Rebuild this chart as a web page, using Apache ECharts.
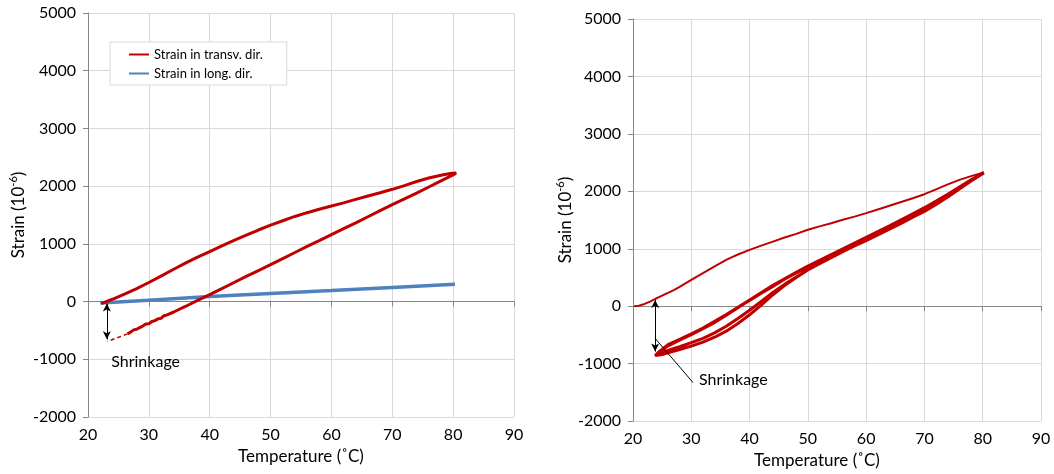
<!DOCTYPE html>
<html>
<head>
<meta charset="utf-8">
<script src="https://cdn.jsdelivr.net/npm/echarts@6/dist/echarts.min.js"></script>
<style>
html,body{margin:0;padding:0;background:#fff;}
#chart{width:1054px;height:474px;}
</style>
</head>
<body>
<div id="chart"></div>
<script>
// ---------- DATA ----------
var xTicks = [20, 30, 40, 50, 60, 70, 80, 90];
var yTicks = [-2000, -1000, 0, 1000, 2000, 3000, 4000, 5000];
var legendNames = ['Strain in transv. dir.', 'Strain in long. dir.'];

// Left chart: transverse strain, heating branch [temperature, strain]
var leftTransHeat = [
  [22.2,-35],[23,0],[24,40],[26,130],[28,225],[30,330],[32,440],[34,555],[36,665],[38,770],
  [40,865],[42,965],[44,1060],[46,1150],[48,1240],[50,1325],[52,1400],[54,1475],[56,1540],
  [58,1600],[60,1655],[62,1710],[64,1770],[66,1830],[68,1885],[70,1945],[72,2010],[74,2080],
  [76,2140],[78,2190],[79.5,2220],[80.5,2228]
];
// Left chart: transverse strain, cooling branch
var leftTransCool = [
  [80.8,2215],[80,2195],[78,2090],[76,1985],[74,1880],[72,1780],[70,1680],[68,1575],[66,1470],
  [64,1365],[62,1265],[60,1160],[58,1055],[56,955],[54,850],[52,745],[50,640],[48,535],
  [46,435],[44,330],[42,225],[40,120],[38,20],[36,-85],[34,-185],[33,-230],[32.4,-250],
  [32,-290],[31.5,-300],[31,-330],[30.5,-345],[30,-385],[29.5,-390],[29,-425],[28.5,-450],
  [28,-480],[27.5,-490],[27,-530],[26.5,-560]
];
// Left chart: dashed extrapolation
var leftTransDash = [[26.5,-560],[23.2,-690]];
// Left chart: longitudinal strain
var leftLong = [[22,-25],[30,25],[40,88],[50,140],[60,190],[70,245],[80.3,300]];

// Right chart: first heating
var rightFirstHeat = [
  [20.2,0],[21,10],[22,40],[23,85],[24,135],[25,185],[26,232],[27,280],[28,335],[30,460],
  [32,575],[34,695],[35,750],[36,805],[37,855],[38,900],[40,980],[42,1055],[44,1125],[46,1195],
  [48,1260],[50,1330],[52,1390],[54,1445],[56,1505],[58,1560],[60,1620],[62,1685],[64,1750],
  [66,1815],[68,1880],[70,1950],[72,2035],[74,2120],[76,2200],[78,2265],[80.2,2330]
];
// Right chart: thermal cycles
var rightCool1 = [
  [80.2,2330],[78,2200],[76,2075],[74,1950],[72,1830],[70,1715],[68,1610],[66,1505],[64,1400],
  [62,1300],[60,1200],[58,1100],[56,1000],[54,900],[52,800],[50,700],[48,590],[46,470],
  [44,345],[42,225],[40,100],[38,-20],[36,-150],[34,-275],[32,-380],[30,-480],[28,-575],
  [26,-670],[24.5,-790],[23.8,-860]
];
var rightHeat1 = [
  [23.8,-870],[25,-840],[26,-810],[28,-755],[30,-695],[32,-625],[34,-540],[36,-435],[38,-300],
  [40,-150],[42,20],[44,200],[46,360],[48,500],[50,630],[52,740],[54,845],[56,950],[58,1050],
  [60,1140],[62,1240],[64,1340],[66,1440],[68,1550],[70,1650],[72,1770],[74,1900],[76,2040],
  [78,2180],[80.2,2320]
];
var rightCool2 = [
  [80.2,2320],[76,2060],[72,1810],[68,1590],[64,1380],[60,1180],[56,985],[52,785],[48,580],
  [44,360],[42,235],[40,105],[38,-25],[36,-155],[34,-285],[32,-390],[30,-495],[28,-590],
  [26,-690],[24.5,-800],[23.9,-855]
];
var rightHeat2 = [
  [23.9,-860],[26,-770],[28,-705],[30,-635],[32,-560],[34,-465],[36,-350],[38,-215],[40,-70],
  [42,85],[44,240],[46,380],[48,510],[52,755],[56,965],[60,1160],[64,1360],[68,1565],
  [72,1785],[76,2050],[80.2,2325]
];
var rightCool3 = [
  [80.2,2325],[76,2070],[72,1820],[68,1600],[64,1390],[60,1190],[56,990],[52,790],[48,590],
  [44,365],[40,110],[36,-145],[32,-380],[30,-480],[28.5,-560],[26.8,-645]
];

// Annotations [temperature, strain]
var leftArrow = [[23.1,-35],[23.1,-655]];
var leftLabelPos = [23.9,-1060];
var rightArrow = [[23.8,110],[23.8,-790]];
var rightLeader = [[23.8,-560],[30.3,-1330]];
var rightLabelPos = [31.4,-1295];
var labelText = 'Shrinkage';

// ---------- STYLE ----------
var RED = '#c00000', BLUE = '#4f81bd', GRID = '#d9d9d9', AXIS = '#868686';
var FONT = 'Lato';

function plain(v) { return String(v); }

function xAxes(gi, nameGap, namePad) {
  return [
    {
      gridIndex: gi, type: 'value', min: xTicks[0], max: xTicks[xTicks.length-1], interval: 10,
      position: 'bottom',
      axisLine: { show: false, onZero: false },
      axisTick: { show: false },
      splitLine: { show: true, lineStyle: { color: GRID, width: 1 } },
      axisLabel: { fontFamily: FONT, fontSize: 16, color: '#000', margin: 10, formatter: plain },
      name: 'Temperature (˚C)', nameLocation: 'middle', nameGap: nameGap,
      nameTextStyle: { fontFamily: FONT, fontSize: 17, color: '#000', padding: namePad }
    },
    {
      gridIndex: gi, type: 'value', min: xTicks[0], max: xTicks[xTicks.length-1], interval: 10,
      position: 'top',
      axisLine: { show: true, onZero: true, lineStyle: { color: AXIS, width: 1 } },
      axisTick: { show: true, inside: true, length: 5, lineStyle: { color: AXIS } },
      axisLabel: { show: false },
      splitLine: { show: false }
    }
  ];
}
function yAxis(gi, nameGap) {
  return {
    gridIndex: gi, type: 'value', min: yTicks[0], max: yTicks[yTicks.length-1], interval: 1000,
    axisLine: { show: true, onZero: false, lineStyle: { color: AXIS, width: 1 } },
    axisTick: { show: true, length: 5, lineStyle: { color: AXIS } },
    splitLine: { show: true, lineStyle: { color: GRID, width: 1 } },
    axisLabel: { fontFamily: FONT, fontSize: 16, color: '#000', margin: 12, formatter: plain },
    name: '{base|Strain (10}{sup|-6}{base|)}', nameLocation: 'middle', nameGap: nameGap,
    nameTextStyle: {
      fontFamily: FONT, fontSize: 17, color: '#000',
      rich: {
        base: { fontFamily: FONT, fontSize: 17, color: '#000', lineHeight: 22 },
        sup: { fontFamily: FONT, fontSize: 11, color: '#000', verticalAlign: 'top', lineHeight: 22, padding: [0, 0, 8, 0] }
      }
    }
  };
}

function lineSeries(name, data, xi, yi, color, width, dashed) {
  return {
    name: name, type: 'line', data: data, xAxisIndex: xi, yAxisIndex: yi,
    showSymbol: false, symbol: 'none', smooth: false, silent: true,
    lineStyle: { color: color, width: width, type: dashed ? [4, 3] : 'solid' },
    itemStyle: { color: color },
    z: 3
  };
}
function arrowSeries(pts, xi, yi, withArrows) {
  return {
    type: 'line', data: [], xAxisIndex: xi, yAxisIndex: yi, silent: true,
    markLine: {
      silent: true, animation: false,
      symbol: withArrows ? ['arrow', 'arrow'] : ['none', 'none'],
      symbolSize: [6, 8],
      label: { show: false },
      lineStyle: { color: '#000', width: 1, type: 'solid' },
      data: [[{ coord: pts[0] }, { coord: pts[1] }]]
    },
    z: 5
  };
}
function textSeries(pos, xi, yi) {
  return {
    type: 'scatter', data: [pos], xAxisIndex: xi, yAxisIndex: yi, silent: true,
    symbolSize: 1, itemStyle: { color: 'rgba(0,0,0,0)' },
    label: { show: true, position: [0, 0], align: 'left', verticalAlign: 'middle',
      formatter: labelText, fontFamily: FONT, fontSize: 16, color: '#000',
      textBorderWidth: 0, opacity: 1 },
    z: 6
  };
}

var rightCycles = [].concat(rightCool1, rightHeat1, rightCool2, rightHeat2, rightCool3);
var leftTrans = [].concat(leftTransHeat, leftTransCool);

var option = {
  animation: false,
  backgroundColor: '#fff',
  grid: [
    { left: 88, top: 13, width: 426, height: 404 },
    { left: 633, top: 19, width: 408, height: 407 }
  ],
  xAxis: [].concat(xAxes(0, 30, [0,0,0,0]), xAxes(1, 27, [0,40,0,0])),
  yAxis: [yAxis(0, 58), yAxis(1, 44)],
  legend: {
    data: legendNames, orient: 'vertical', left: 110, top: 42,
    backgroundColor: '#fff', borderColor: GRID, borderWidth: 1,
    padding: [6, 24, 5, 19], itemGap: 6, itemWidth: 20, itemHeight: 2, itemTextGap: 1,
    icon: 'rect',
    textStyle: { fontFamily: FONT, fontSize: 13, color: '#000' },
    selectedMode: false
  },
  series: [
    lineSeries(legendNames[1], leftLong, 0, 0, BLUE, 3.5),
    lineSeries(legendNames[0], leftTrans, 0, 0, RED, 3),
    lineSeries('dash', leftTransDash, 0, 0, RED, 1.5, true),
    arrowSeries(leftArrow, 0, 0, true),
    textSeries(leftLabelPos, 0, 0),
    lineSeries('first heating', rightFirstHeat, 2, 1, RED, 2),
    lineSeries('cycles', rightCycles, 2, 1, RED, 3),
    arrowSeries(rightArrow, 2, 1, true),
    arrowSeries(rightLeader, 2, 1, false),
    textSeries(rightLabelPos, 2, 1)
  ]
};
var chart = echarts.init(document.getElementById('chart'), null, { renderer: 'canvas' });
chart.setOption(option);
</script>
</body>
</html>
